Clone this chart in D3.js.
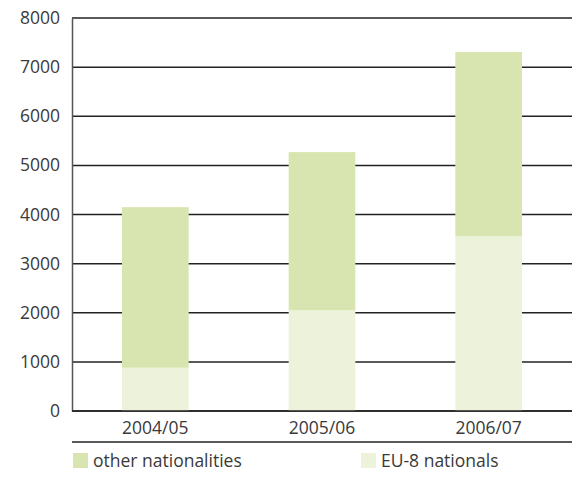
<!DOCTYPE html>
<html>
<head>
<meta charset="utf-8">
<script src="https://cdn.jsdelivr.net/npm/d3@7"></script>
<style>
  body { margin: 0; background: #fff; }
  text { font-family: "Open Sans", "Noto Sans", sans-serif; fill: #3a3a3a; }
</style>
</head>
<body>
<div id="chart"></div>
<script>
// chart data
const years = ["2004/05", "2005/06", "2006/07"];
const eu8 = [880, 2050, 3560];
const other = [3270, 3220, 3750];
const seriesNames = ["other nationalities", "EU-8 nationals"];
const yTicks = [0, 1000, 2000, 3000, 4000, 5000, 6000, 7000, 8000];

const width = 572, height = 478;
const margin = {top: 18, right: 0, bottom: 67, left: 72};
const colors = {other: "#d9e5b0", eu8: "#edf3da"};
const fontSize = "17.5px";

let svg = d3.select("#chart")
  .append("svg")
  .attr("width", width)
  .attr("height", height);

let x = d3.scaleBand()
  .domain(years)
  .range([margin.left, width - margin.right])
  .paddingInner(0.6)
  .paddingOuter(0.3);

let y = d3.scaleLinear()
  .domain([0, 8000])
  .range([height - margin.bottom, margin.top]);

// gridlines (behind bars)
svg.append("g")
  .selectAll("line")
  .data(yTicks)
  .enter()
  .append("line")
  .attr("x1", margin.left)
  .attr("x2", width - margin.right)
  .attr("y1", d => y(d))
  .attr("y2", d => y(d))
  .attr("stroke", "#222")
  .attr("stroke-width", 1.5);

// stacked bars
let stacked = years.map((yr, i) => ({year: yr, eu8: eu8[i], other: other[i]}));

svg.append("g")
  .selectAll("rect")
  .data(stacked)
  .enter()
  .append("rect")
  .attr("x", d => x(d.year))
  .attr("width", x.bandwidth())
  .attr("y", d => y(d.eu8))
  .attr("height", d => y(0) - y(d.eu8))
  .attr("fill", colors.eu8);

svg.append("g")
  .selectAll("rect")
  .data(stacked)
  .enter()
  .append("rect")
  .attr("x", d => x(d.year))
  .attr("width", x.bandwidth())
  .attr("y", d => y(d.eu8 + d.other))
  .attr("height", d => y(d.eu8) - y(d.eu8 + d.other))
  .attr("fill", colors.other);

// left axis
let yAxis = svg.append("g")
  .attr("transform", `translate(${margin.left}, 0)`)
  .call(d3.axisLeft(y).tickValues(yTicks).tickSize(0).tickPadding(12).tickFormat(d3.format("d")));
yAxis.select(".domain").attr("stroke", "#555").attr("stroke-width", 1.5);
yAxis.selectAll("text").style("font-size", fontSize).attr("fill", "#3a3a3a");

// bottom axis line
svg.append("line")
  .attr("x1", margin.left)
  .attr("x2", width - margin.right)
  .attr("y1", y(0))
  .attr("y2", y(0))
  .attr("stroke", "#222")
  .attr("stroke-width", 1.5);

// category labels
svg.append("g")
  .selectAll("text")
  .data(years)
  .enter()
  .append("text")
  .attr("x", d => x(d) + x.bandwidth() / 2)
  .attr("y", y(0) + 23)
  .style("text-anchor", "middle")
  .style("font-size", fontSize)
  .text(d => d);

// separator line above legend
svg.append("line")
  .attr("x1", margin.left)
  .attr("x2", width - margin.right)
  .attr("y1", 442)
  .attr("y2", 442)
  .attr("stroke", "#222")
  .attr("stroke-width", 1.5);

// legend
let legendX = [73, 361];
let legendColors = [colors.other, colors.eu8];
let legend = svg.append("g")
  .selectAll("g")
  .data(seriesNames)
  .enter()
  .append("g")
  .attr("transform", (d, i) => `translate(${legendX[i]}, 453)`);

legend.append("rect")
  .attr("width", 15)
  .attr("height", 15)
  .attr("fill", (d, i) => legendColors[i]);

legend.append("text")
  .attr("x", 20)
  .attr("y", 14)
  .style("font-size", fontSize)
  .text(d => d);
</script>
</body>
</html>
